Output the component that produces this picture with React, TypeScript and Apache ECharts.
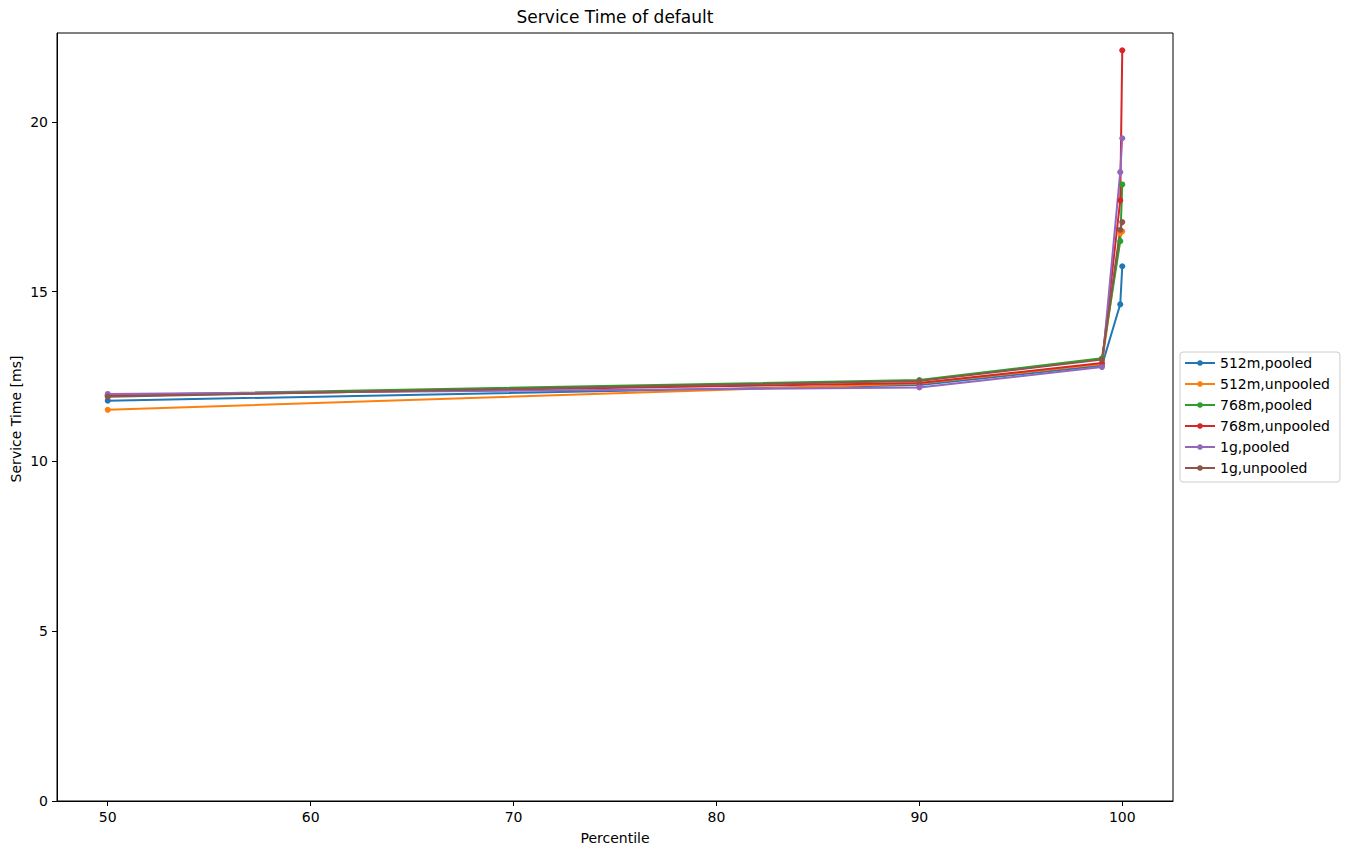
import React, { useEffect, useRef } from "react";
import * as echarts from "echarts";

const percentiles = [50, 90, 99, 99.9, 100];
const seriesNames = ["512m,pooled", "512m,unpooled", "768m,pooled", "768m,unpooled", "1g,pooled", "1g,unpooled"];
const s512Pooled = [11.79, 12.25, 12.83, 14.63, 15.75];
const s512Unpooled = [11.52, 12.3, 12.87, 16.72, 16.78];
const s768Pooled = [11.95, 12.4, 13.04, 16.49, 18.16];
const s768Unpooled = [11.93, 12.31, 12.9, 17.69, 22.11];
const s1gPooled = [11.99, 12.18, 12.78, 18.52, 19.52];
const s1gUnpooled = [11.91, 12.37, 13.0, 16.82, 17.05];
const colors = ["#1f77b4", "#ff7f0e", "#2ca02c", "#d62728", "#9467bd", "#8c564b"];
const xTicks = [50, 60, 70, 80, 90, 100];
const yTicks = [0, 5, 10, 15, 20];

const FONT = "DejaVu Sans";

export default function App() {
  const ref = useRef<HTMLDivElement>(null);
  useEffect(() => {
    if (!ref.current) return;
    const chart = echarts.init(ref.current, null, { renderer: "svg" });
    const all = [s512Pooled, s512Unpooled, s768Pooled, s768Unpooled, s1gPooled, s1gUnpooled];
    chart.setOption({
      animation: false,
      backgroundColor: "#ffffff",
      textStyle: { fontFamily: FONT },
      grid: { left: 57, right: 175, top: 33, bottom: 54, show: true, borderColor: "#000", borderWidth: 1, containLabel: false },
      graphic: [
        { type: "text", x: 615, y: 17, style: { text: "Service Time of default", font: `17px '${FONT}'`, fill: "#000", textAlign: "center", textVerticalAlign: "middle" } },
        { type: "text", x: 615, y: 838, style: { text: "Percentile", font: `14px '${FONT}'`, fill: "#000", textAlign: "center", textVerticalAlign: "middle" } },
        { type: "text", x: 16, y: 419, rotation: Math.PI / 2, style: { text: "Service Time [ms]", font: `14px '${FONT}'`, fill: "#000", textAlign: "center", textVerticalAlign: "middle" } },
      ],
      legend: {
        orient: "vertical",
        left: 1180,
        top: 352,
        data: seriesNames,
        itemWidth: 30,
        itemHeight: 7,
        itemGap: 5,
        itemTextGap: 10,
        padding: [3, 10, 6, 4],
        borderColor: "#cccccc",
        borderWidth: 1,
        borderRadius: 3,
        textStyle: { fontFamily: FONT, fontSize: 14, color: "#000", lineHeight: 16 },
      },
      xAxis: {
        type: "value",
        min: 47.5,
        max: 102.5,
        axisLine: { show: true, onZero: false, lineStyle: { color: "#000", width: 1 } },
        axisTick: { show: true, length: 5, lineStyle: { color: "#000" }, customValues: xTicks },
        axisLabel: { customValues: xTicks, color: "#000", fontSize: 14, fontFamily: FONT, margin: 9 },
        splitLine: { show: false },
      },
      yAxis: {
        type: "value",
        min: 0,
        max: 22.62,
        axisLine: { show: true, onZero: false, lineStyle: { color: "#000", width: 1 } },
        axisTick: { show: true, length: 5, lineStyle: { color: "#000" }, customValues: yTicks },
        axisLabel: { customValues: yTicks, color: "#000", fontSize: 14, fontFamily: FONT, margin: 9 },
        splitLine: { show: false },
      },
      series: all.map((vals, i) => ({
        name: seriesNames[i],
        type: "line",
        data: vals.map((v, j) => [percentiles[j], v]),
        symbol: "circle",
        symbolSize: 6,
        showSymbol: true,
        color: colors[i],
        lineStyle: { width: 2, color: colors[i] },
        itemStyle: { color: colors[i] },
        emphasis: { disabled: true },
      })),
    });
    return () => chart.dispose();
  }, []);
  return <div ref={ref} style={{ position: "fixed", left: 0, top: 0, width: 1348, height: 855 }} />;
}
